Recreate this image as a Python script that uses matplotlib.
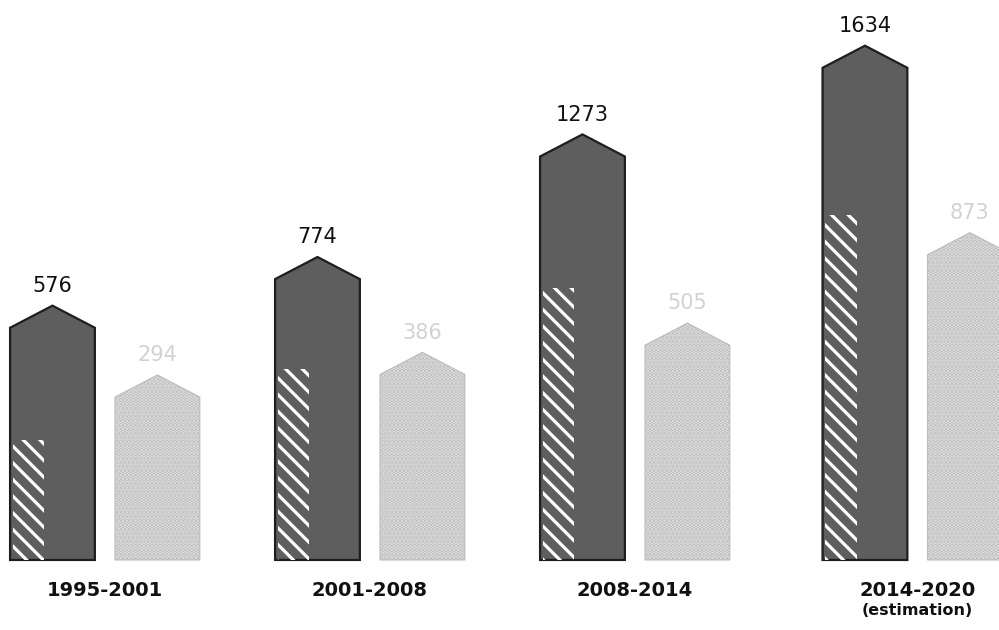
"""
Dark vs light columns per period, arrow-topped bars
"""
import matplotlib
matplotlib.use("Agg")
import matplotlib.pyplot as plt
import numpy as np

periods = ["1995-2001", "2001-2008", "2008-2014", "2014-2020"]
dark_values = [576, 774, 1273, 1634]
light_values = [294, 386, 505, 873]
hatch_share = [0.47, 0.63, 0.64, 0.67]  # striped part of the dark columns

# the infographic is not drawn to scale: columns start below zero
base = -459
tip = 90        # height of the arrow point
width = 0.32
gap = 0.396
x_pos = np.arange(len(periods)) + np.array([0, 0, 0, 0.066])

plt.rcParams['hatch.linewidth'] = 2.3

fig = plt.figure(figsize=(9.99, 6.30), dpi=100)
ax = fig.add_axes([0, 0, 1, 1])


def column(ax, xc, value, **kw):
    l, r = xc - width / 2, xc + width / 2
    xs = [l, l, xc, r, r]
    ys = [base, value - tip, value, value - tip, base]
    ax.fill(xs, ys, **kw)


for i, x in enumerate(x_pos):
    # dark column
    column(ax, x, dark_values[i], facecolor='#5e5e5e', edgecolor='#1e1e1e', linewidth=1.6)
    # white stripes on lower left
    h = (dark_values[i] - base) * hatch_share[i]
    ax.bar(x - width / 2 + 0.01, h, width=width * 0.37, bottom=base, align='edge',
           facecolor='none', edgecolor='white', hatch='\\\\', linewidth=0)
    ax.text(x, dark_values[i] + 80, str(dark_values[i]), ha='center', va='center',
            fontsize=15, color='#111111')

    # light column
    column(ax, x + gap, light_values[i], facecolor='#e4e4e4', edgecolor='#bcbcbc',
           linewidth=0.8, hatch='....')
    ax.text(x + gap, light_values[i] + 80, str(light_values[i]), ha='center', va='center',
            fontsize=15, color='#d2d2d2')

    ax.text(x + gap / 2, 0.062, periods[i], transform=ax.get_xaxis_transform(),
            ha='center', va='center', fontsize=14, fontweight='bold', color='#111111')

ax.text(x_pos[-1] + gap / 2, 0.031, "(estimation)", transform=ax.get_xaxis_transform(),
        ha='center', va='center', fontsize=11.5, fontweight='bold', color='#111111')

ax.set_xlim(-0.198, -0.198 + 999 / 265)
ax.set_ylim(-744, 1820)
ax.axis('off')

fig.savefig("out.png", dpi=100)
